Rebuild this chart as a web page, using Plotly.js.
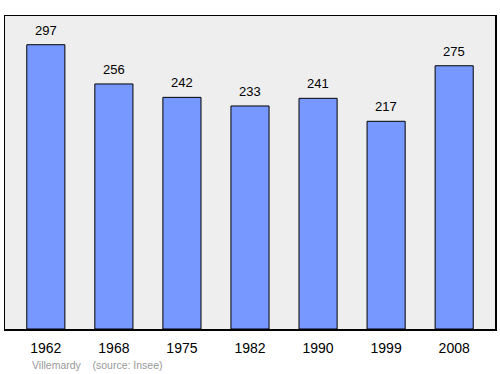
<!DOCTYPE html>
<html><head><meta charset="utf-8">
<script src="https://cdn.plot.ly/plotly-3.0.1.min.js"></script>
<style>html,body{margin:0;padding:0;background:#fff}#c{width:500px;height:374px}</style>
</head><body><div id="c"></div>
<script>
const years = ["1962","1968","1975","1982","1990","1999","2008"];
const population = [297,256,242,233,241,217,275];
const commune = "Villemardy";
const source = "(source: Insee)";

const labels = years.map((yr, i) => ({
  x: i, y: population[i], xref: 'x', yref: 'y', text: String(population[i]),
  showarrow: false, yanchor: 'bottom', yshift: 5,
  font: {family: 'Liberation Sans, Arial', size: 13, color: '#000'}
}));
labels.push({text: commune + '    ' + source, xref: 'paper', yref: 'paper',
  x: 0.05, y: -0.115, xanchor: 'left', yanchor: 'middle', showarrow: false,
  font: {family: 'Liberation Sans, Arial', size: 10.5, color: '#999'}});

Plotly.newPlot('c', [{
  type: 'bar', x: years, y: population, width: 0.56,
  marker: {color: '#7799ff', line: {color: '#000', width: 1}},
  hoverinfo: 'none'
}], {
  width: 500, height: 374,
  margin: {l: 5, r: 5, t: 16, b: 45},
  paper_bgcolor: '#fff', plot_bgcolor: '#eeeeee',
  showlegend: false,
  xaxis: {type: 'category', range: [-0.6, 6.6], showgrid: false, ticks: '',
    ticklabelstandoff: 6,
    tickfont: {family: 'Liberation Sans, Arial', size: 14, color: '#000'},
    showline: true, mirror: true, linecolor: '#000', linewidth: 1.5},
  yaxis: {range: [0, 327], showgrid: false, showticklabels: false, zeroline: false,
    showline: true, mirror: true, linecolor: '#000', linewidth: 1.5},
  annotations: labels
}, {staticPlot: true});
</script></body></html>
